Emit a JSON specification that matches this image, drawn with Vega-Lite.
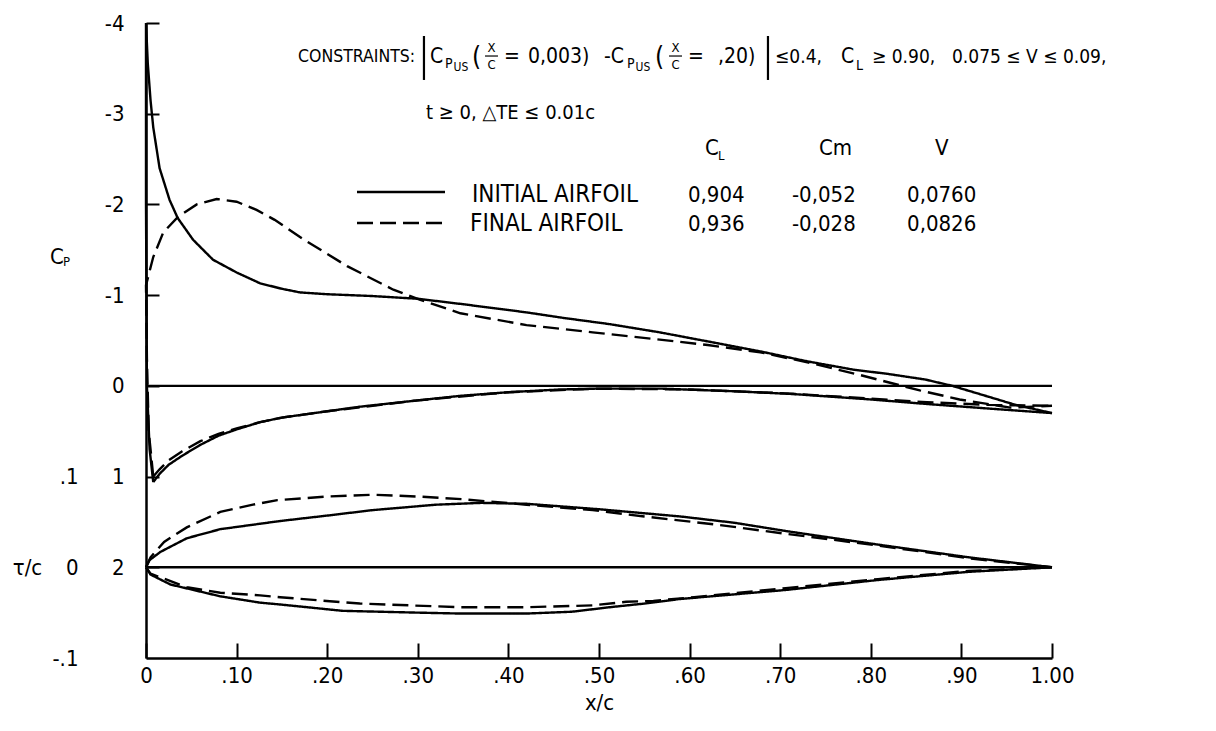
{
"$schema": "https://vega.github.io/schema/vega-lite/v6.json",
"width": 906, "height": 635, "autosize": "none",
"padding": {"left": 146, "top": 23, "right": 164, "bottom": 73},
"background": "white",
"config": {
  "view": {"stroke": null},
  "font": "DejaVu Sans Condensed, Liberation Sans Narrow, DejaVu Sans, sans-serif",
  "axis": {"domainColor": "black", "tickColor": "black", "labelColor": "black", "titleColor": "black", "grid": false,
    "labelFont": "DejaVu Sans Condensed, Liberation Sans Narrow, DejaVu Sans, sans-serif",
    "titleFont": "DejaVu Sans Condensed, Liberation Sans Narrow, DejaVu Sans, sans-serif",
    "labelFontSize": 22, "titleFontSize": 22, "titleFontWeight": "normal", "domainWidth": 2.5, "tickWidth": 2,
    "labelFlush": false, "labelOverlap": false},
  "text": {"font": "DejaVu Sans Condensed, Liberation Sans Narrow, DejaVu Sans, sans-serif", "color": "black"}
},
"datasets": {
  "cp": [
    {"s":"initial","g":"upper","i":0,"x":0.008,"cp":1.06},
    {"s":"initial","g":"upper","i":1,"x":0.004,"cp":0.7},
    {"s":"initial","g":"upper","i":2,"x":0.001,"cp":0.0},
    {"s":"initial","g":"upper","i":3,"x":0.0,"cp":-2.0},
    {"s":"initial","g":"upper","i":4,"x":0.0,"cp":-4.0},
    {"s":"initial","g":"upper","i":5,"x":0.002,"cp":-3.55},
    {"s":"initial","g":"upper","i":6,"x":0.005,"cp":-3.15},
    {"s":"initial","g":"upper","i":7,"x":0.008,"cp":-2.85},
    {"s":"initial","g":"upper","i":8,"x":0.015,"cp":-2.4},
    {"s":"initial","g":"upper","i":9,"x":0.026,"cp":-2.05},
    {"s":"initial","g":"upper","i":10,"x":0.035,"cp":-1.85},
    {"s":"initial","g":"upper","i":11,"x":0.052,"cp":-1.61},
    {"s":"initial","g":"upper","i":12,"x":0.074,"cp":-1.39},
    {"s":"initial","g":"upper","i":13,"x":0.1,"cp":-1.25},
    {"s":"initial","g":"upper","i":14,"x":0.126,"cp":-1.13},
    {"s":"initial","g":"upper","i":15,"x":0.15,"cp":-1.07},
    {"s":"initial","g":"upper","i":16,"x":0.17,"cp":-1.03},
    {"s":"initial","g":"upper","i":17,"x":0.2,"cp":-1.01},
    {"s":"initial","g":"upper","i":18,"x":0.25,"cp":-0.99},
    {"s":"initial","g":"upper","i":19,"x":0.3,"cp":-0.96},
    {"s":"initial","g":"upper","i":20,"x":0.35,"cp":-0.9},
    {"s":"initial","g":"upper","i":21,"x":0.42,"cp":-0.81},
    {"s":"initial","g":"upper","i":22,"x":0.46,"cp":-0.75},
    {"s":"initial","g":"upper","i":23,"x":0.512,"cp":-0.68},
    {"s":"initial","g":"upper","i":24,"x":0.567,"cp":-0.59},
    {"s":"initial","g":"upper","i":25,"x":0.62,"cp":-0.49},
    {"s":"initial","g":"upper","i":26,"x":0.678,"cp":-0.38},
    {"s":"initial","g":"upper","i":27,"x":0.73,"cp":-0.27},
    {"s":"initial","g":"upper","i":28,"x":0.78,"cp":-0.18},
    {"s":"initial","g":"upper","i":29,"x":0.82,"cp":-0.13},
    {"s":"initial","g":"upper","i":30,"x":0.86,"cp":-0.07},
    {"s":"initial","g":"upper","i":31,"x":0.89,"cp":0.0},
    {"s":"initial","g":"upper","i":32,"x":0.93,"cp":0.12},
    {"s":"initial","g":"upper","i":33,"x":0.96,"cp":0.21},
    {"s":"initial","g":"upper","i":34,"x":1.0,"cp":0.3},
    {"s":"final","g":"upper","i":0,"x":0.008,"cp":1.0},
    {"s":"final","g":"upper","i":1,"x":0.003,"cp":0.5},
    {"s":"final","g":"upper","i":2,"x":0.001,"cp":-0.3},
    {"s":"final","g":"upper","i":3,"x":0.0,"cp":-1.11},
    {"s":"final","g":"upper","i":4,"x":0.008,"cp":-1.42},
    {"s":"final","g":"upper","i":5,"x":0.019,"cp":-1.69},
    {"s":"final","g":"upper","i":6,"x":0.035,"cp":-1.86},
    {"s":"final","g":"upper","i":7,"x":0.056,"cp":-2.0},
    {"s":"final","g":"upper","i":8,"x":0.078,"cp":-2.06},
    {"s":"final","g":"upper","i":9,"x":0.1,"cp":-2.03},
    {"s":"final","g":"upper","i":10,"x":0.122,"cp":-1.94},
    {"s":"final","g":"upper","i":11,"x":0.142,"cp":-1.83},
    {"s":"final","g":"upper","i":12,"x":0.173,"cp":-1.62},
    {"s":"final","g":"upper","i":13,"x":0.222,"cp":-1.32},
    {"s":"final","g":"upper","i":14,"x":0.273,"cp":-1.06},
    {"s":"final","g":"upper","i":15,"x":0.302,"cp":-0.95},
    {"s":"final","g":"upper","i":16,"x":0.347,"cp":-0.8},
    {"s":"final","g":"upper","i":17,"x":0.42,"cp":-0.67},
    {"s":"final","g":"upper","i":18,"x":0.493,"cp":-0.59},
    {"s":"final","g":"upper","i":19,"x":0.567,"cp":-0.51},
    {"s":"final","g":"upper","i":20,"x":0.62,"cp":-0.45},
    {"s":"final","g":"upper","i":21,"x":0.678,"cp":-0.37},
    {"s":"final","g":"upper","i":22,"x":0.73,"cp":-0.26},
    {"s":"final","g":"upper","i":23,"x":0.788,"cp":-0.12},
    {"s":"final","g":"upper","i":24,"x":0.854,"cp":0.05},
    {"s":"final","g":"upper","i":25,"x":0.898,"cp":0.15},
    {"s":"final","g":"upper","i":26,"x":0.954,"cp":0.24},
    {"s":"final","g":"upper","i":27,"x":1.0,"cp":0.22},
    {"s":"initial","g":"lower","i":0,"x":0.008,"cp":1.06},
    {"s":"initial","g":"lower","i":1,"x":0.015,"cp":0.97},
    {"s":"initial","g":"lower","i":2,"x":0.025,"cp":0.87},
    {"s":"initial","g":"lower","i":3,"x":0.04,"cp":0.77},
    {"s":"initial","g":"lower","i":4,"x":0.06,"cp":0.65},
    {"s":"initial","g":"lower","i":5,"x":0.08,"cp":0.55},
    {"s":"initial","g":"lower","i":6,"x":0.1,"cp":0.48},
    {"s":"initial","g":"lower","i":7,"x":0.126,"cp":0.4},
    {"s":"initial","g":"lower","i":8,"x":0.15,"cp":0.35},
    {"s":"initial","g":"lower","i":9,"x":0.2,"cp":0.28},
    {"s":"initial","g":"lower","i":10,"x":0.236,"cp":0.23},
    {"s":"initial","g":"lower","i":11,"x":0.3,"cp":0.16},
    {"s":"initial","g":"lower","i":12,"x":0.347,"cp":0.11},
    {"s":"initial","g":"lower","i":13,"x":0.4,"cp":0.07},
    {"s":"initial","g":"lower","i":14,"x":0.457,"cp":0.04},
    {"s":"initial","g":"lower","i":15,"x":0.5,"cp":0.03},
    {"s":"initial","g":"lower","i":16,"x":0.567,"cp":0.03},
    {"s":"initial","g":"lower","i":17,"x":0.65,"cp":0.06},
    {"s":"initial","g":"lower","i":18,"x":0.714,"cp":0.09},
    {"s":"initial","g":"lower","i":19,"x":0.8,"cp":0.15},
    {"s":"initial","g":"lower","i":20,"x":0.862,"cp":0.2},
    {"s":"initial","g":"lower","i":21,"x":0.93,"cp":0.25},
    {"s":"initial","g":"lower","i":22,"x":1.0,"cp":0.3},
    {"s":"final","g":"lower","i":0,"x":0.008,"cp":1.0},
    {"s":"final","g":"lower","i":1,"x":0.015,"cp":0.92},
    {"s":"final","g":"lower","i":2,"x":0.025,"cp":0.82},
    {"s":"final","g":"lower","i":3,"x":0.04,"cp":0.72},
    {"s":"final","g":"lower","i":4,"x":0.06,"cp":0.61},
    {"s":"final","g":"lower","i":5,"x":0.08,"cp":0.53},
    {"s":"final","g":"lower","i":6,"x":0.1,"cp":0.47},
    {"s":"final","g":"lower","i":7,"x":0.126,"cp":0.4},
    {"s":"final","g":"lower","i":8,"x":0.15,"cp":0.35},
    {"s":"final","g":"lower","i":9,"x":0.2,"cp":0.28},
    {"s":"final","g":"lower","i":10,"x":0.3,"cp":0.16},
    {"s":"final","g":"lower","i":11,"x":0.4,"cp":0.07},
    {"s":"final","g":"lower","i":12,"x":0.5,"cp":0.03},
    {"s":"final","g":"lower","i":13,"x":0.6,"cp":0.04},
    {"s":"final","g":"lower","i":14,"x":0.7,"cp":0.08},
    {"s":"final","g":"lower","i":15,"x":0.8,"cp":0.14},
    {"s":"final","g":"lower","i":16,"x":0.862,"cp":0.18},
    {"s":"final","g":"lower","i":17,"x":0.93,"cp":0.21},
    {"s":"final","g":"lower","i":18,"x":1.0,"cp":0.22},
    {"s":"initial","g":"zero","i":0,"x":0.0,"cp":0.0},
    {"s":"initial","g":"zero","i":1,"x":1.0,"cp":0.0},
    {"s":"initial","g":"legend","i":0,"x":0.2329,"cp":-2.137},
    {"s":"initial","g":"legend","i":1,"x":0.33,"cp":-2.137},
    {"s":"final","g":"legend","i":0,"x":0.2329,"cp":-1.795},
    {"s":"final","g":"legend","i":1,"x":0.33,"cp":-1.795}
  ],
  "foil": [
    {"s":"initial","g":"upper","x":0.0,"tc":0.0},
    {"s":"initial","g":"upper","x":0.004,"tc":0.008},
    {"s":"initial","g":"upper","x":0.016,"tc":0.017},
    {"s":"initial","g":"upper","x":0.045,"tc":0.032},
    {"s":"initial","g":"upper","x":0.082,"tc":0.042},
    {"s":"initial","g":"upper","x":0.126,"tc":0.048},
    {"s":"initial","g":"upper","x":0.148,"tc":0.051},
    {"s":"initial","g":"upper","x":0.2,"tc":0.057},
    {"s":"initial","g":"upper","x":0.25,"tc":0.063},
    {"s":"initial","g":"upper","x":0.32,"tc":0.069},
    {"s":"initial","g":"upper","x":0.37,"tc":0.071},
    {"s":"initial","g":"upper","x":0.42,"tc":0.07},
    {"s":"initial","g":"upper","x":0.5,"tc":0.064},
    {"s":"initial","g":"upper","x":0.59,"tc":0.056},
    {"s":"initial","g":"upper","x":0.65,"tc":0.049},
    {"s":"initial","g":"upper","x":0.706,"tc":0.04},
    {"s":"initial","g":"upper","x":0.808,"tc":0.025},
    {"s":"initial","g":"upper","x":0.908,"tc":0.011},
    {"s":"initial","g":"upper","x":1.0,"tc":0.0},
    {"s":"final","g":"upper","x":0.0,"tc":0.0},
    {"s":"final","g":"upper","x":0.005,"tc":0.011},
    {"s":"final","g":"upper","x":0.02,"tc":0.028},
    {"s":"final","g":"upper","x":0.045,"tc":0.044},
    {"s":"final","g":"upper","x":0.082,"tc":0.061},
    {"s":"final","g":"upper","x":0.118,"tc":0.069},
    {"s":"final","g":"upper","x":0.145,"tc":0.074},
    {"s":"final","g":"upper","x":0.2,"tc":0.078},
    {"s":"final","g":"upper","x":0.25,"tc":0.08},
    {"s":"final","g":"upper","x":0.3,"tc":0.078},
    {"s":"final","g":"upper","x":0.35,"tc":0.075},
    {"s":"final","g":"upper","x":0.42,"tc":0.069},
    {"s":"final","g":"upper","x":0.493,"tc":0.063},
    {"s":"final","g":"upper","x":0.55,"tc":0.056},
    {"s":"final","g":"upper","x":0.63,"tc":0.047},
    {"s":"final","g":"upper","x":0.706,"tc":0.037},
    {"s":"final","g":"upper","x":0.808,"tc":0.024},
    {"s":"final","g":"upper","x":0.908,"tc":0.01},
    {"s":"final","g":"upper","x":1.0,"tc":0.0},
    {"s":"initial","g":"lower","x":0.0,"tc":0.0},
    {"s":"initial","g":"lower","x":0.005,"tc":-0.008},
    {"s":"initial","g":"lower","x":0.027,"tc":-0.019},
    {"s":"initial","g":"lower","x":0.082,"tc":-0.032},
    {"s":"initial","g":"lower","x":0.126,"tc":-0.039},
    {"s":"initial","g":"lower","x":0.148,"tc":-0.041},
    {"s":"initial","g":"lower","x":0.217,"tc":-0.048},
    {"s":"initial","g":"lower","x":0.3,"tc":-0.05},
    {"s":"initial","g":"lower","x":0.347,"tc":-0.051},
    {"s":"initial","g":"lower","x":0.42,"tc":-0.051},
    {"s":"initial","g":"lower","x":0.47,"tc":-0.049},
    {"s":"initial","g":"lower","x":0.512,"tc":-0.044},
    {"s":"initial","g":"lower","x":0.55,"tc":-0.04},
    {"s":"initial","g":"lower","x":0.589,"tc":-0.035},
    {"s":"initial","g":"lower","x":0.706,"tc":-0.025},
    {"s":"initial","g":"lower","x":0.808,"tc":-0.014},
    {"s":"initial","g":"lower","x":0.908,"tc":-0.005},
    {"s":"initial","g":"lower","x":1.0,"tc":0.0},
    {"s":"final","g":"lower","x":0.0,"tc":0.0},
    {"s":"final","g":"lower","x":0.005,"tc":-0.007},
    {"s":"final","g":"lower","x":0.045,"tc":-0.022},
    {"s":"final","g":"lower","x":0.082,"tc":-0.028},
    {"s":"final","g":"lower","x":0.126,"tc":-0.031},
    {"s":"final","g":"lower","x":0.148,"tc":-0.033},
    {"s":"final","g":"lower","x":0.236,"tc":-0.04},
    {"s":"final","g":"lower","x":0.347,"tc":-0.044},
    {"s":"final","g":"lower","x":0.42,"tc":-0.044},
    {"s":"final","g":"lower","x":0.493,"tc":-0.042},
    {"s":"final","g":"lower","x":0.53,"tc":-0.038},
    {"s":"final","g":"lower","x":0.56,"tc":-0.037},
    {"s":"final","g":"lower","x":0.605,"tc":-0.033},
    {"s":"final","g":"lower","x":0.706,"tc":-0.023},
    {"s":"final","g":"lower","x":0.808,"tc":-0.013},
    {"s":"final","g":"lower","x":0.908,"tc":-0.004},
    {"s":"final","g":"lower","x":1.0,"tc":0.0},
    {"s":"initial","g":"chord","x":0.0,"tc":0.0},
    {"s":"initial","g":"chord","x":1.0,"tc":0.0}
  ],
  "bars": [
    {"x":0.3068,"cp":-3.857,"cp2":-3.372},
    {"x":0.6865,"cp":-3.857,"cp2":-3.372}
  ],
  "fracbars": [
    {"x":0.3742,"x2":0.3885,"cp":-3.636},
    {"x":0.5773,"x2":0.5916,"cp":-3.636}
  ],
  "t18": [
    {"x":0.1678,"cp":-3.625,"t":"CONSTRAINTS:"}
  ],
  "t21": [
    {"x":0.3135,"cp":-3.625,"t":"C"},
    {"x":0.3951,"cp":-3.625,"t":"="},
    {"x":0.4216,"cp":-3.625,"t":"0,003)"},
    {"x":0.5055,"cp":-3.625,"t":"-C"},
    {"x":0.5982,"cp":-3.625,"t":"="},
    {"x":0.6313,"cp":-3.625,"t":",20)"},
    {"x":0.7671,"cp":-3.625,"t":"C"}
  ],
  "t20": [
    {"x":0.3091,"cp":-3.008,"t":"t ≥ 0, △TE ≤ 0.01c"}
  ],
  "t19": [
    {"x":0.6943,"cp":-3.625,"t":"≤0.4,"},
    {"x":0.8013,"cp":-3.625,"t":"≥ 0.90,"},
    {"x":0.8896,"cp":-3.625,"t":"0.075 ≤ V ≤ 0.09,"}
  ],
  "tname": [
    {"x":0.3598,"cp":-2.104,"t":"INITIAL AIRFOIL"},
    {"x":0.3576,"cp":-1.784,"t":"FINAL AIRFOIL"}
  ],
  "tleg": [
    {"x":0.5982,"cp":-2.104,"t":"0,904"},
    {"x":0.713,"cp":-2.104,"t":"-0,052"},
    {"x":0.84,"cp":-2.104,"t":"0,0760"},
    {"x":0.5982,"cp":-1.784,"t":"0,936"},
    {"x":0.713,"cp":-1.784,"t":"-0,028"},
    {"x":0.84,"cp":-1.784,"t":"0,0826"},
    {"x":0.617,"cp":-2.622,"t":"C"},
    {"x":0.7428,"cp":-2.622,"t":"Cm"},
    {"x":0.8709,"cp":-2.622,"t":"V"},
    {"x":-0.106,"cp":-1.42,"t":"C"}
  ],
  "tsub14": [
    {"x":0.33,"cp":-3.548,"t":"P"},
    {"x":0.5309,"cp":-3.548,"t":"P"},
    {"x":0.7837,"cp":-3.53,"t":"L"}
  ],
  "tsub13": [
    {"x":0.6313,"cp":-2.534,"t":"L"},
    {"x":-0.0916,"cp":-1.37,"t":"P"}
  ],
  "tsub12": [
    {"x":0.3394,"cp":-3.515,"t":"US"},
    {"x":0.5403,"cp":-3.515,"t":"US"}
  ],
  "tparen": [
    {"x":0.3598,"cp":-3.625,"t":"("},
    {"x":0.5618,"cp":-3.625,"t":"("}
  ],
  "tfrac": [
    {"x":0.3813,"cp":-3.724,"t":"X"},
    {"x":0.3813,"cp":-3.537,"t":"C"},
    {"x":0.5844,"cp":-3.724,"t":"X"},
    {"x":0.5844,"cp":-3.537,"t":"C"}
  ]
},
"layer": [
  {
    "encoding": {
      "y": {"field": "cp", "type": "quantitative", "scale": {"domain": [-4, 3], "reverse": true, "nice": false, "zero": false},
        "axis": {"title": null, "values": [-4, -3, -2, -1, 0, 1, 2], "labelExpr": "'' + datum.value", "tickSize": -13, "labelPadding": 35}}
    },
    "layer": [
      {
        "data": {"name": "cp"},
        "mark": {"type": "line", "color": "black", "strokeWidth": 2.4},
        "encoding": {
          "x": {"field": "x", "type": "quantitative", "scale": {"domain": [0, 1], "nice": false, "zero": false},
            "axis": {"title": "x/c", "values": [0, 0.1, 0.2, 0.3, 0.4, 0.5, 0.6, 0.7, 0.8, 0.9, 1],
              "labelExpr": "datum.value == 0 ? '0' : datum.value == 1 ? '1.00' : replace(format(datum.value, '.2f'), '0.', '.')",
              "tickSize": -15, "labelPadding": 22, "titlePadding": 6}},
          "detail": {"field": "g", "type": "nominal"},
          "strokeDash": {"field": "s", "type": "nominal", "scale": {"domain": ["initial", "final"], "range": [[1, 0], [16, 7]]}, "legend": null},
          "order": {"field": "i", "type": "quantitative"}
        }
      },
      {
        "data": {"name": "bars"},
        "mark": {"type": "rule", "color": "black", "strokeWidth": 2.2},
        "encoding": {"x": {"field": "x", "type": "quantitative"}, "y2": {"field": "cp2"}}
      },
      {
        "data": {"name": "fracbars"},
        "mark": {"type": "rule", "color": "black", "strokeWidth": 1.2},
        "encoding": {"x": {"field": "x", "type": "quantitative"}, "x2": {"field": "x2"}}
      },
      {
        "data": {"name": "t18"},
        "mark": {"type": "text", "fontSize": 17.5, "align": "left", "baseline": "middle"},
        "encoding": {"x": {"field": "x", "type": "quantitative"}, "text": {"field": "t"}}
      },
      {
        "data": {"name": "t21"},
        "mark": {"type": "text", "fontSize": 21, "align": "left", "baseline": "middle"},
        "encoding": {"x": {"field": "x", "type": "quantitative"}, "text": {"field": "t"}}
      },
      {
        "data": {"name": "t20"},
        "mark": {"type": "text", "fontSize": 20, "align": "left", "baseline": "middle"},
        "encoding": {"x": {"field": "x", "type": "quantitative"}, "text": {"field": "t"}}
      },
      {
        "data": {"name": "t19"},
        "mark": {"type": "text", "fontSize": 19, "align": "left", "baseline": "middle"},
        "encoding": {"x": {"field": "x", "type": "quantitative"}, "text": {"field": "t"}}
      },
      {
        "data": {"name": "tname"},
        "mark": {"type": "text", "fontSize": 24, "align": "left", "baseline": "middle"},
        "encoding": {"x": {"field": "x", "type": "quantitative"}, "text": {"field": "t"}}
      },
      {
        "data": {"name": "tleg"},
        "mark": {"type": "text", "fontSize": 22, "align": "left", "baseline": "middle"},
        "encoding": {"x": {"field": "x", "type": "quantitative"}, "text": {"field": "t"}}
      },
      {
        "data": {"name": "tsub14"},
        "mark": {"type": "text", "fontSize": 14, "align": "left", "baseline": "middle"},
        "encoding": {"x": {"field": "x", "type": "quantitative"}, "text": {"field": "t"}}
      },
      {
        "data": {"name": "tsub13"},
        "mark": {"type": "text", "fontSize": 13, "align": "left", "baseline": "middle"},
        "encoding": {"x": {"field": "x", "type": "quantitative"}, "text": {"field": "t"}}
      },
      {
        "data": {"name": "tsub12"},
        "mark": {"type": "text", "fontSize": 12, "align": "left", "baseline": "middle"},
        "encoding": {"x": {"field": "x", "type": "quantitative"}, "text": {"field": "t"}}
      },
      {
        "data": {"name": "tparen"},
        "mark": {"type": "text", "fontSize": 26, "align": "left", "baseline": "middle"},
        "encoding": {"x": {"field": "x", "type": "quantitative"}, "text": {"field": "t"}}
      },
      {
        "data": {"name": "tfrac"},
        "mark": {"type": "text", "fontSize": 13, "align": "center", "baseline": "middle"},
        "encoding": {"x": {"field": "x", "type": "quantitative"}, "text": {"field": "t"}}
      }
    ]
  },
  {
    "data": {"name": "foil"},
    "mark": {"type": "line", "color": "black", "strokeWidth": 2.4},
    "encoding": {
      "x": {"field": "x", "type": "quantitative"},
      "y": {"field": "tc", "type": "quantitative", "scale": {"domain": [-0.1, 0.6], "nice": false, "zero": false},
        "axis": {"orient": "left", "offset": 62, "title": "τ/c", "titleAngle": 0, "titleAlign": "center", "titleBaseline": "middle",
          "titleX": -57, "titleY": 544, "values": [-0.1, 0, 0.1],
          "labelExpr": "datum.value == 0 ? '0' : datum.value > 0 ? '.1' : '-.1'", "ticks": false, "domain": false, "labelPadding": 6}},
      "detail": {"field": "g", "type": "nominal"},
      "strokeDash": {"field": "s", "type": "nominal", "scale": {"domain": ["initial", "final"], "range": [[1, 0], [16, 7]]}, "legend": null}
    }
  }
],
"resolve": {"scale": {"y": "independent"}}
}
